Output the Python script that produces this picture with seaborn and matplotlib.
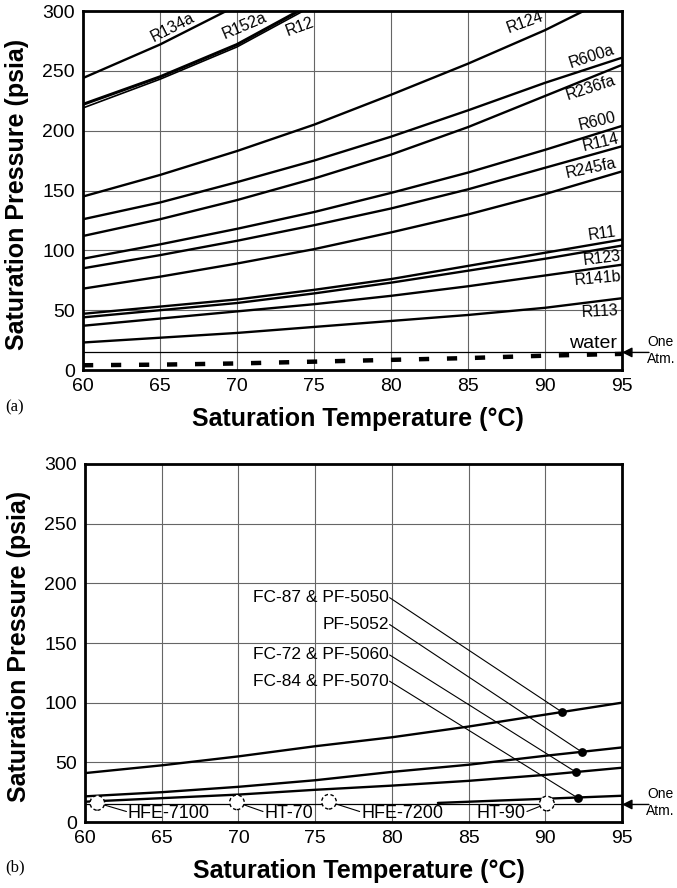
import numpy as np
import pandas as pd
import matplotlib
matplotlib.use("Agg")
import matplotlib.pyplot as plt
import seaborn as sns

# ---------------- data (panel a) ----------------
T = [60, 65, 70, 75, 80, 85, 90, 95]
r134a_T = [60, 65, 69.3]
r134a_p = [244, 272, 300]
r152a_T = [60, 65, 70, 74.0]
r152a_p = [222, 245, 272, 300]
r12_T = [60, 65, 70, 74.3]
r12_p = [219, 243, 270, 300]
r124_T = [60, 65, 70, 75, 80, 85, 90, 92.5]
r124_p = [145, 163, 183, 205, 230, 256, 284, 300]
r600a_p = [126, 140, 157, 175, 195, 217, 240, 261]
r236fa_p = [112, 126, 142, 160, 180, 203, 229, 255]
r600_p = [93, 105, 118, 132, 148, 165, 184, 204]
r114_p = [85, 96, 108, 121, 135, 151, 169, 187]
r245fa_p = [68, 78, 89, 101, 115, 130, 147, 166]
r11_p = [47, 53, 59, 67, 76, 87, 98, 109]
r123_p = [44, 50, 56, 64, 73, 83, 93, 104]
r141b_p = [37, 43, 49, 55, 62, 70, 79, 88]
r113_p = [23, 27, 31, 36, 41, 46, 52, 60]
water_p = [4, 4.5, 5.5, 7, 8.5, 10, 12, 13.5]
one_atm = 14.7

# labels for panel a: name, T, p, rotation
a_names = ["R134a", "R152a", "R12", "R124", "R600a", "R236fa", "R600", "R114",
           "R245fa", "R11", "R123", "R141b", "R113"]
a_lab_T = [65.8, 70.5, 74.1, 88.7, 93.0, 93.0, 93.4, 93.6, 93.0, 93.7, 93.7, 93.4, 93.6]
a_lab_p = [286, 287.5, 287, 291, 262, 236, 207.5, 190, 169, 114, 93.5, 76.5, 49]
a_lab_rot = [27, 23, 20, 20, 18, 18, 13, 13, 12, 8, 7, 5, 3]

# ---------------- data (panel b) ----------------
fc87_p = [41, 47.5, 55, 63.5, 71, 80, 90, 100]
pf5052_p = [21.5, 25, 29.5, 35, 42, 48, 55.5, 62.5]
fc72_p = [17, 20, 23, 27, 30.5, 34.5, 39.5, 45.5]
fc84_T = [83, 85, 90, 95]
fc84_p = [16, 17, 19.5, 22]
dot_T = [91.1, 92.4, 92.0, 92.1]
dot_p = [92, 58.5, 41.8, 20.3]
b_names = ["FC-87 & PF-5050", "PF-5052", "FC-72 & PF-5060", "FC-84 & PF-5070"]
b_lab_T = [79.8, 79.8, 79.8, 79.8]
b_lab_p = [188, 165.5, 140, 118]
circ_T = [60.8, 69.9, 75.9, 90.1]
circ_p = [16, 16.5, 17, 15.5]
circ_names = ["HFE-7100", "HT-70", "HFE-7200", "HT-90"]
circ_lab_T = [62.7, 71.6, 77.9, 88.8]
circ_lab_p = [7.3, 7.3, 7.3, 7.3]

# ---------------- style ----------------
sns.set_theme(style="white")
plt.rcParams["font.family"] = ["Liberation Sans", "DejaVu Sans"]
plt.rcParams["text.color"] = "black"
plt.rcParams["axes.labelcolor"] = "black"
plt.rcParams["xtick.color"] = "black"
plt.rcParams["ytick.color"] = "black"

fig = plt.figure(figsize=(6.77, 8.88), dpi=100)
ax1 = fig.add_axes([0.1226, 0.5833, 0.7962, 0.4043])
ax2 = fig.add_axes([0.1256, 0.0743, 0.7932, 0.4032])

LW = 1.7


def curve(ax, x, y, **kw):
    kw.setdefault("color", "black")
    kw.setdefault("lw", LW)
    sns.lineplot(x=x, y=y, ax=ax, legend=False, sort=False, **kw)


def frame(ax):
    ax.set_xlim(60, 95)
    ax.set_ylim(0, 300)
    ax.set_xticks(range(60, 96, 5))
    ax.set_yticks(range(0, 301, 50))
    ax.grid(True, color="#666666", lw=0.8)
    ax.set_axisbelow(True)
    for s in ax.spines.values():
        s.set_visible(True)
        s.set_color("black")
        s.set_linewidth(2.0)
    ax.tick_params(axis="x", length=0, labelsize=14, pad=6, colors="black")
    ax.tick_params(axis="y", length=0, labelsize=14, pad=6, colors="black")
    ax.set_xlabel("Saturation Temperature (°C)", fontsize=18, fontweight="bold",
                  color="black")
    ax.set_ylabel("Saturation Pressure (psia)", fontsize=18, fontweight="bold",
                  color="black")
    ax.xaxis.set_label_coords(0.51, -0.103)
    ax.yaxis.set_label_coords(-0.1, 0.49)
    # one atmosphere line and arrow
    ax.axhline(one_atm, color="black", lw=0.9, zorder=2)
    tr = ax.get_yaxis_transform()
    ax.annotate("", xy=(1.0, one_atm), xycoords=tr, xytext=(1.05, one_atm),
                textcoords=tr, annotation_clip=False,
                arrowprops=dict(arrowstyle="-|>", color="black", lw=1.0,
                                mutation_scale=15, shrinkA=0, shrinkB=0))
    ax.text(1.072, one_atm + 1.5, "One\nAtm.", transform=tr, ha="center", va="center",
            fontsize=10, linespacing=1.25, clip_on=False, color="black")


# ---------------- panel a ----------------
frame(ax1)
curve(ax1, r134a_T, r134a_p)
curve(ax1, r152a_T, r152a_p, lw=2.2)
curve(ax1, r12_T, r12_p, lw=1.2)
curve(ax1, r124_T, r124_p)
for p in [r600a_p, r236fa_p, r600_p, r114_p, r245fa_p, r11_p, r123_p, r141b_p, r113_p]:
    curve(ax1, T, p)
curve(ax1, T, water_p, lw=3.2, linestyle=(0, (2.3, 4.0)))
for n, x, y, r in zip(a_names, a_lab_T, a_lab_p, a_lab_rot):
    ax1.text(x, y, n, rotation=r, ha="center", va="center", fontsize=11.5, color="black")
ax1.text(93.1, 22, "water", ha="center", va="center", fontsize=14, color="black")
fig.text(0.008, 1 - 407 / 888, "(a)", fontsize=12, family="Liberation Serif",
         ha="left", va="center", color="black")

# ---------------- panel b ----------------
frame(ax2)
curve(ax2, T, fc87_p)
curve(ax2, T, pf5052_p)
curve(ax2, T, fc72_p)
curve(ax2, fc84_T, fc84_p)
for n, lx, ly, dx, dy in zip(b_names, b_lab_T, b_lab_p, dot_T, dot_p):
    ax2.text(lx, ly, n, ha="right", va="center", fontsize=12.5, color="black")
    ax2.plot([lx + 0.05, dx], [ly, dy], color="black", lw=0.8, zorder=3)
sns.scatterplot(x=dot_T, y=dot_p, ax=ax2, color="black", s=40, edgecolor="black",
                linewidth=0, zorder=5, legend=False)
for n, cx, cy, lx, ly in zip(circ_names, circ_T, circ_p, circ_lab_T, circ_lab_p):
    if lx > cx:
        ax2.text(lx + 0.1, ly, n, ha="left", va="center", fontsize=13, color="black")
    else:
        ax2.text(lx - 0.1, ly, n, ha="right", va="center", fontsize=13, color="black")
    ax2.plot([cx, lx], [cy, ly + 1.5], color="black", lw=0.8, zorder=3)
sns.scatterplot(x=circ_T, y=circ_p, ax=ax2, color="white", edgecolor="black", s=110,
                linewidth=1.0, linestyle=(0, (2.5, 1.8)), zorder=6, legend=False)
fig.text(0.008, 1 - 867 / 888, "(b)", fontsize=12, family="Liberation Serif",
         ha="left", va="center", color="black")

fig.savefig("out.png", dpi=100)
